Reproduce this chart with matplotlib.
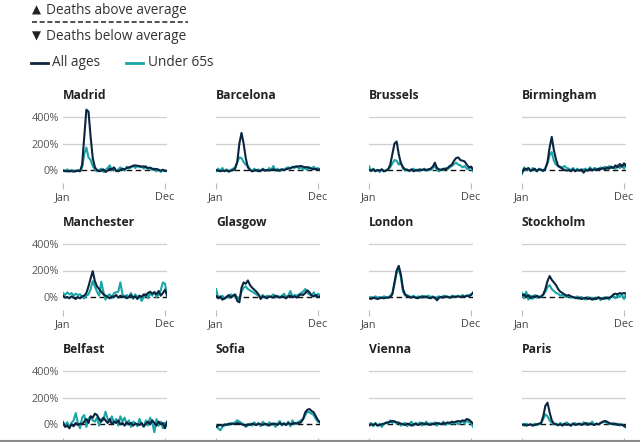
import matplotlib
matplotlib.use("Agg")
import matplotlib.pyplot as plt
from matplotlib.lines import Line2D

plt.rcParams['font.family'] = ['Open Sans', 'DejaVu Sans']

cities = ["Madrid", "Barcelona", "Brussels", "Birmingham",
          "Manchester", "Glasgow", "London", "Stockholm",
          "Belfast", "Sofia", "Vienna", "Paris"]

month_labels = ["Jan", "Dec"]
y_ticks = [0, 200, 400]
y_tick_labels = ["0%", "200%", "400%"]

madrid_all = [-5, -8, -10, -6, -9, -12, -8, -5, -10, 40, 250, 455, 440, 250, 90, 20, 0, -10, -5, 5,
              -15, -5, 10, 5, 20, -5, -10, 0, 10, 5, 15, 20, 25, 30, 35, 32, 30, 25, 28, 20,
              15, 18, 10, 5, 8, 0, -5, 2, -8, -5]
madrid_u65 = [0, -10, 5, -15, 0, -5, -12, 0, -8, 20, 120, 170, 95, 75, 30, 5, -10, 0, 10, -15,
              0, 15, 35, 0, 10, -10, 5, 20, 5, -5, 25, 10, 20, 35, 15, 30, 20, 25, 10, 30,
              5, 15, 0, 10, -10, 5, -15, 0, -5, -10]

barcelona_all = [0, -5, -10, -5, -8, -3, -10, -5, -2, 10, 60, 200, 280, 200, 90, 20, 0, -10, -5, 0,
                 -10, -5, 5, -5, 0, -5, 0, 5, 0, -5, 0, 5, 0, 5, 10, 15, 20, 25, 25, 28,
                 30, 25, 20, 22, 15, 10, 5, 10, 0, 5]
barcelona_u65 = [-10, 10, -5, 15, -10, 5, -15, 0, 10, 20, 60, 95, 90, 60, 40, 30, 5, -10, 10, -5,
                 5, -10, 10, 0, -5, 15, 0, 30, -5, 10, -10, 5, 0, 15, 20, 10, 25, 15, 30, 10,
                 20, 5, 15, 0, 20, 10, 25, 5, 15, 0]

brussels_all = [0, -5, 5, -10, 0, -5, 5, -10, -5, 5, 40, 120, 200, 215, 120, 50, 20, 5, 0, -5,
                5, -10, 0, -5, 5, 0, 5, 0, 5, 10, 25, 55, 15, 5, 0, 10, 5, 15, 30, 40,
                70, 90, 95, 75, 70, 65, 40, 20, 25, 5]
brussels_u65 = [30, -10, 10, -5, 0, -15, 5, -10, 0, 5, 20, 50, 75, 70, 40, 60, 10, -5, 5, -10,
                0, 10, -5, 5, -10, 0, 10, -5, 5, 0, 15, 30, 0, -10, 5, 0, 15, 5, 20, 30,
                45, 55, 40, 35, 20, 30, 10, 5, 25, -10]

birmingham_all = [-20, 10, 5, 15, -5, 0, 10, -10, 5, 0, -5, 10, 60, 170, 250, 150, 80, 30, 20, 10,
                  0, -5, 0, -10, 5, -10, 0, -5, 5, -20, 0, -5, 10, -5, 5, 0, 10, 5, 15, 5,
                  20, 10, 25, 15, 35, 20, 45, 25, 50, 30]
birmingham_u65 = [-30, 20, 0, 10, -10, 15, 0, -5, 10, 5, -10, 15, 50, 110, 135, 70, 40, 30, 25, 20,
                  30, 15, 10, 0, 15, -5, 10, 0, -10, 5, 10, -5, 20, 0, 15, 10, 5, 20, 10, 25,
                  5, 30, 15, 20, 10, 35, 15, 40, 10, 45]

manchester_all = [10, -5, 0, -10, 5, -5, -15, 0, -10, 5, 10, 30, 80, 140, 195, 120, 80, 60, 40, 20,
                  10, 0, -10, 5, 0, 15, -5, 10, 0, 5, -10, 0, 15, -5, 5, -15, 10, 0, 20, 10,
                  30, 40, 25, 35, 20, 45, 10, 30, 55, 10]
manchester_u65 = [30, 15, 35, 20, 30, 10, 25, 15, 20, 0, -10, 10, 20, 60, 120, 80, 40, 10, 115, 40,
                  -20, 10, 20, -10, 30, 35, 40, 110, 20, -5, 15, 0, 30, -15, 20, 0, 10, -30, 0, 25,
                  -10, 30, 10, 40, 0, 20, 50, 110, 100, 5]

glasgow_all = [10, -10, 5, -20, -10, 0, 15, -5, 10, 20, -30, -40, 70, 110, 100, 125, 90, 70, 55, 40,
               20, -15, 5, 0, -10, 5, 0, -5, 10, 0, -5, 5, 0, -10, 5, 10, 0, 5, -5, 10,
               20, 15, 30, 50, 35, 10, 5, 15, 0, 5]
glasgow_u65 = [60, 0, -10, 10, -15, 5, -5, 20, 5, 10, 0, -20, 40, 70, 80, 60, 50, 40, 30, 20,
               10, 0, 15, -5, 10, 0, 5, 20, -5, 10, 0, 5, 25, 0, 10, 45, 0, 15, 10, 20,
               30, 40, 60, 30, 20, 10, 35, 5, 25, 10]

london_all = [-10, -15, -5, -10, -15, -10, -5, -10, -5, -5, 0, 20, 110, 200, 235, 170, 60, 20, 5, 0,
              -5, 0, -5, -10, 0, -5, 5, 0, -5, -10, 0, -5, -25, -5, 0, -5, 5, 0, -5, 0,
              5, 0, 5, 0, 5, 0, 10, 5, 15, 35]
london_u65 = [-5, 0, -10, 5, -5, 0, -10, 5, 0, -5, 10, 30, 100, 180, 210, 150, 40, 10, 15, 5,
              0, 10, -5, 5, 0, 10, -5, 5, 10, 0, 5, -10, 0, 5, -5, 10, 0, 5, -5, 10,
              0, 5, 10, 0, 15, 5, 10, 15, 20, 25]

stockholm_all = [10, 20, 0, 15, -10, 5, 0, 10, -5, 5, 20, 60, 120, 158, 130, 110, 90, 60, 40, 30,
                 20, 10, 15, 5, 0, -5, -10, -5, -15, -10, -5, -15, -10, -20, -10, -15, -5, -10, -15, -5,
                 -10, -5, 0, 20, 25, 20, 30, 25, 30, 25]
stockholm_u65 = [30, -10, 40, -20, 10, -15, 15, -5, 5, 0, 15, 40, 75, 90, 60, 45, 30, 25, 10, 15,
                 5, 0, 10, -5, 0, -10, 5, -15, 0, -10, -20, 0, -15, -5, -20, -10, 0, -25, -5, -15,
                 0, -20, 5, 10, -10, 15, 0, 20, -15, 25]

belfast_all = [10, -20, -10, -30, 0, -15, 10, -5, 5, 0, 20, 40, 10, 60, 50, 80, 70, 40, 20, 50,
               30, 10, 40, 0, 20, 10, 30, 0, 10, -10, 15, 0, 10, -10, 5, 0, -5, 10, -15, 5,
               20, 0, 30, 10, -10, 20, 0, 10, -30, 20]
belfast_u65 = [20, -10, 15, -20, 10, 30, 85, 10, -30, 50, 70, -20, 40, 60, 30, 20, 50, -10, 40, 30,
               95, 40, 20, 60, 10, 40, -10, 60, 20, 50, 0, 30, -20, 20, 10, -15, 40, 0, -20, 30,
               -10, 50, 10, -60, 40, -10, 20, -30, 10, 15]

sofia_all = [-20, -10, -5, -10, 0, -5, 5, 0, 5, 0, 10, 5, 0, -5, -10, 0, -5, 5, 0, -5,
             5, 0, -5, 5, 0, -10, 5, 0, 5, -5, 10, 0, 5, -5, 10, 0, 5, 10, 5, 10,
             15, 40, 90, 110, 115, 100, 90, 60, 30, 15]
sofia_u65 = [-10, -30, -45, -20, -10, 0, -5, 10, 5, 15, 30, 20, 10, 0, -20, -10, 5, -10, 15, -5,
             10, -15, 20, 0, -10, 15, -5, 10, -20, 5, 25, -10, 10, -5, 20, -15, 30, 0, 10, 20,
             30, 40, 70, 95, 90, 80, 70, 40, 20, 10]

vienna_all = [-10, 0, -5, 5, -10, -5, 0, 5, 10, 15, 20, 25, 20, 15, 10, 5, 0, -5, 5, 0,
              -10, 0, 5, -5, 0, 10, 0, 5, 0, -5, 5, 0, 10, 5, 0, 10, 5, 15, 10, 20,
              15, 20, 25, 20, 30, 25, 40, 35, 20, 5]
vienna_u65 = [0, 10, -15, 10, -10, 5, -20, 0, 15, 5, 30, 10, 25, 5, 15, -10, 5, 10, -15, 5,
              20, -10, 10, 0, 15, -10, 5, 20, -5, 10, 0, 15, -10, 10, 0, 20, -5, 10, 0, 15,
              5, 20, 0, 10, 25, 5, 30, 15, 10, -20]

paris_all = [-5, 0, -10, -5, 0, -10, -5, 0, 5, 10, 60, 140, 163, 90, 30, 5, 0, -5, 0, -10,
             5, -5, 0, -10, 5, -5, 0, 5, -5, 0, 10, -5, 5, 0, -5, 5, 0, 10, 20, 25,
             20, 10, 5, 0, 5, -5, 0, -5, -10, -20]
paris_u65 = [0, -10, 5, -5, 0, -10, 5, -5, 0, 10, 40, 75, 60, 30, 10, 0, 5, -10, 10, 0,
             -5, 15, 0, -10, 5, 10, -5, 5, 0, 15, -5, 10, 0, 20, -5, 5, 0, 10, 15, 20,
             10, 5, 0, 10, -5, 5, -10, 0, -15, -25]

all_ages = [madrid_all, barcelona_all, brussels_all, birmingham_all,
            manchester_all, glasgow_all, london_all, stockholm_all,
            belfast_all, sofia_all, vienna_all, paris_all]
under_65 = [madrid_u65, barcelona_u65, brussels_u65, birmingham_u65,
            manchester_u65, glasgow_u65, london_u65, stockholm_u65,
            belfast_u65, sofia_u65, vienna_u65, paris_u65]

NAVY = "#0b2541"
TEAL = "#1aa6a6"
W, H = 640, 442

fig = plt.figure(figsize=(6.4, 4.42), dpi=100)


def fx(x):
    return x / W


def fy(y):
    return 1 - y / H


# Legend block
fig.text(fx(31.5), fy(10), "\u25B2", fontsize=8.5, color="#222222", va="center", ha="left",
         family=['DejaVu Sans'])
fig.text(fx(46), fy(10), "Deaths above average", fontsize=9.8, color="#333333", va="center", ha="left")
fig.add_artist(Line2D([fx(32), fx(188)], [fy(22), fy(22)], color="#333333", lw=1.2,
                      linestyle=(0, (3.0, 1.6)), transform=fig.transFigure))
fig.text(fx(31.5), fy(36), "\u25BC", fontsize=8.5, color="#222222", va="center", ha="left",
         family=['DejaVu Sans'])
fig.text(fx(46), fy(36), "Deaths below average", fontsize=9.8, color="#333333", va="center", ha="left")
fig.add_artist(Line2D([fx(31), fx(48)], [fy(63), fy(63)], color=NAVY, lw=2, transform=fig.transFigure))
fig.text(fx(52), fy(63), "All ages", fontsize=9.8, color="#333333", va="center", ha="left")
fig.add_artist(Line2D([fx(126), fx(143)], [fy(63), fy(63)], color=TEAL, lw=2, transform=fig.transFigure))
fig.text(fx(148), fy(63), "Under 65s", fontsize=9.8, color="#333333", va="center", ha="left")

# Bottom border line
fig.add_artist(Line2D([0, 1], [fy(440.5), fy(440.5)], color="#8a8a8a", lw=1.5, transform=fig.transFigure))

col_x = [63, 216, 369, 522]
row_zero = [170, 297, 424.3]
px_per_pct = 26.5 / 200
YMIN, YMAX = -100, 480
XMAX = 49
dec_pos = 48
plot_w = 102 * XMAX / dec_pos

for i, city in enumerate(cities):
    r, c = divmod(i, 4)
    x0 = col_x[c]
    top = row_zero[r] - YMAX * px_per_pct
    bottom = row_zero[r] - YMIN * px_per_pct
    ax = fig.add_axes([fx(x0), fy(bottom), plot_w / W, (bottom - top) / H])
    ax.set_xlim(0, XMAX)
    ax.set_ylim(YMIN, YMAX)
    for s in ax.spines.values():
        s.set_visible(False)
    for g in (200, 400):
        ax.axhline(g, color="#cfcfcf", lw=0.9, zorder=0)
    ax.axhline(0, color="#111111", lw=1.0, linestyle=(0, (4, 2.5)), zorder=1)
    xs = list(range(len(all_ages[i])))
    ax.plot(xs, under_65[i], color=TEAL, lw=1.5, zorder=2)
    ax.plot(xs, all_ages[i], color=NAVY, lw=1.5, zorder=3)
    ax.set_xticks([0, dec_pos])
    if r < 2:
        ax.set_xticklabels(month_labels)
    else:
        ax.set_xticklabels([])
    ax.tick_params(axis="x", length=4, width=0.8, color="#bbbbbb", pad=2.5,
                   labelsize=7.8, labelcolor="#444444")
    ax.set_yticks(y_ticks)
    if c == 0:
        ax.set_yticklabels(y_tick_labels)
    else:
        ax.set_yticklabels([])
    ax.tick_params(axis="y", length=0, pad=3, labelsize=7.8, labelcolor="#555555")
    ax.text(0, YMAX + 11 / px_per_pct, city, fontsize=8.7, fontweight="bold",
            color="#222222", ha="left", va="center", clip_on=False)

fig.savefig("out.png", dpi=100)
